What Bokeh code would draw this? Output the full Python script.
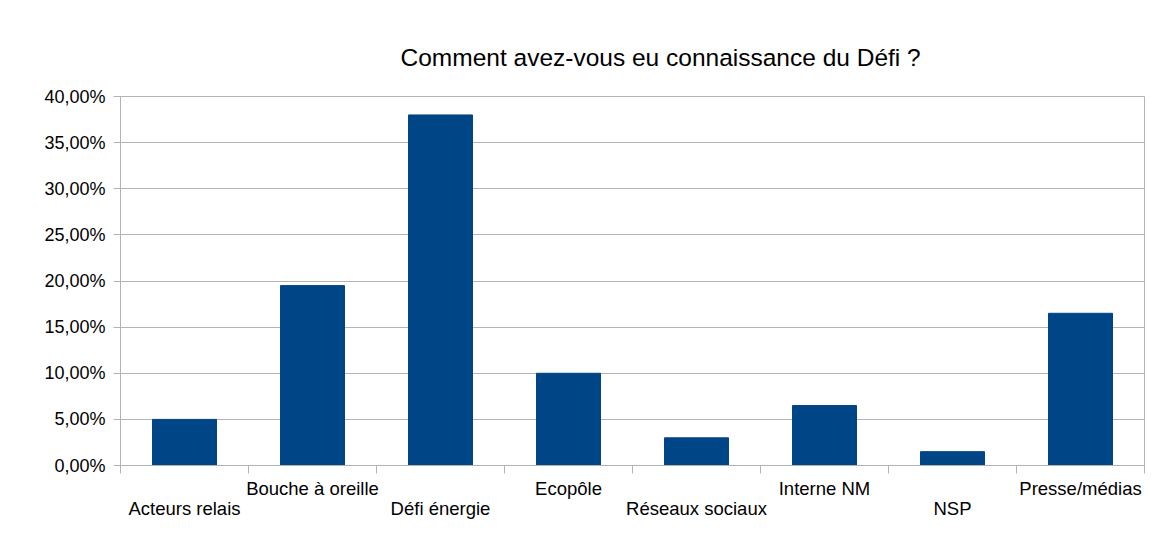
from bokeh.plotting import figure
from bokeh.models import Range1d, FixedTicker, LinearAxis, CustomJSTickFormatter
from bokeh.embed import file_html
from bokeh.resources import INLINE

categories = ["Acteurs relais", "Bouche à oreille", "Défi énergie", "Ecopôle",
              "Réseaux sociaux", "Interne NM", "NSP", "Presse/médias"]
values = [5.0, 19.5, 38.0, 10.0, 3.0, 6.5, 1.5, 16.5]  # percent
y_ticks = [0, 5, 10, 15, 20, 25, 30, 35, 40]
title_text = "Comment avez-vous eu connaissance du Défi ?"

FONT = "Liberation Sans"
GRAY = "#b3b3b3"
BAR = "#004586"
TXT = "#000000"

n = len(categories)
pos = [i + 0.5 for i in range(n)]

p = figure(width=1146, height=527, output_backend="svg", toolbar_location=None,
           x_range=Range1d(0, n), y_range=Range1d(0, 40),
           min_border_left=120, min_border_right=2, min_border_top=96, min_border_bottom=62,
           title=title_text)

p.vbar(x=pos, top=values, width=0.5, fill_color=BAR, line_color=BAR)

p.title.text_font = FONT
p.title.text_font_size = "24.5px"
p.title.text_font_style = "normal"
p.title.text_color = TXT
p.title.align = "left"
p.title.offset = 280
p.title.standoff = 52

p.outline_line_color = GRAY
p.xgrid.grid_line_color = None
p.ygrid.grid_line_color = GRAY
p.ygrid.ticker = FixedTicker(ticks=y_ticks)

# y axis
ya = p.yaxis[0]
ya.ticker = FixedTicker(ticks=y_ticks)
ya.formatter = CustomJSTickFormatter(code="return tick.toFixed(2).replace('.', ',') + '%';")
ya.axis_line_color = GRAY
ya.major_tick_line_color = GRAY
ya.major_tick_out = 7
ya.major_tick_in = 0
ya.minor_tick_line_color = None
ya.major_label_text_font = FONT
ya.major_label_text_font_size = "18px"
ya.major_label_text_color = TXT
ya.major_label_standoff = 8

# x axis: upper row of labels + boundary ticks
upper_idx = [i for i in range(n) if i % 2 == 1]
lower_idx = [i for i in range(n) if i % 2 == 0]

xa = p.xaxis[0]
xa.ticker = FixedTicker(ticks=[pos[i] for i in upper_idx], minor_ticks=list(range(n + 1)))
xa.major_label_overrides = {pos[i]: categories[i] for i in upper_idx}
xa.axis_line_color = GRAY
xa.major_tick_line_color = None
xa.major_tick_out = 0
xa.major_tick_in = 0
xa.minor_tick_line_color = GRAY
xa.minor_tick_out = 8
xa.minor_tick_in = 0
xa.major_label_text_font = FONT
xa.major_label_text_font_size = "18.5px"
xa.major_label_text_color = TXT
xa.major_label_standoff = 4

xb = LinearAxis(ticker=FixedTicker(ticks=[pos[i] for i in lower_idx]))
xb.major_label_overrides = {pos[i]: categories[i] for i in lower_idx}
xb.axis_line_color = None
xb.major_tick_line_color = None
xb.minor_tick_line_color = None
xb.major_tick_out = 0
xb.major_tick_in = 0
xb.major_label_text_font = FONT
xb.major_label_text_font_size = "18.5px"
xb.major_label_text_color = TXT
xb.major_label_standoff = -4
p.add_layout(xb, "below")

open("out.html", "w").write(file_html(p, INLINE))
